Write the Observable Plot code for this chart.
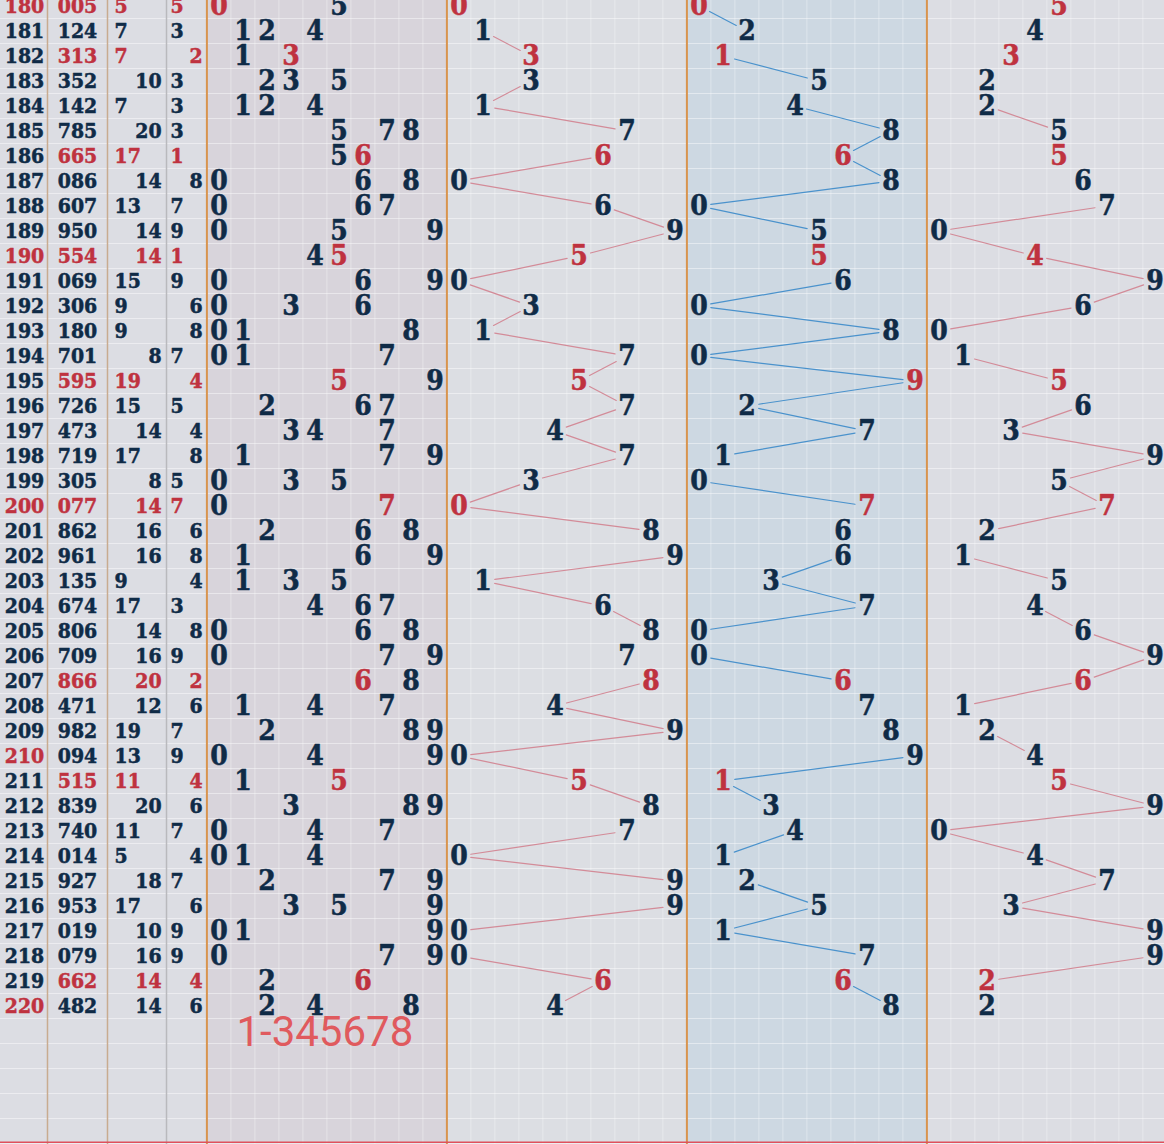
<!DOCTYPE html>
<html><head><meta charset="utf-8">
<script src="https://cdn.jsdelivr.net/npm/d3@7"></script>
<script src="https://cdn.jsdelivr.net/npm/@observablehq/plot@0.6"></script>
<style>
html,body{margin:0;padding:0;background:#dcdde3;overflow:hidden}
svg text.dig{font-stretch:condensed}
</style>
</head><body><div id="chart"></div>
<script>
// ---------- data ----------
const issues = [180,181,182,183,184,185,186,187,188,189,190,191,192,193,194,195,196,197,198,199,200,
                201,202,203,204,205,206,207,208,209,210,211,212,213,214,215,216,217,218,219,220];
const numbers = ["005","124","313","352","142","785","665","086","607","950","554","069","306","180","701","595","726","473","719","305","077",
                 "862","961","135","674","806","709","866","471","982","094","515","839","740","014","927","953","019","079","662","482"];
const sums  = [5,7,7,10,7,20,17,14,13,14,14,15,9,9,8,19,15,14,17,8,14,16,16,9,17,14,16,20,12,19,13,11,20,11,5,18,17,10,16,14,14];
const spans = [5,3,2,3,3,3,1,8,7,9,1,9,6,8,7,4,5,4,8,5,7,6,8,4,3,8,9,2,6,7,9,4,6,7,4,7,6,9,9,4,6];
const noteText = "1-345678";
const noteIssue = 221;

// ---------- layout ----------
const W = 1164, H = 1144;
const secStart = [8.6, 18.6, 28.6, 38.6];      // slot units (24px)
const secFill = ["#d8d4db", "#dcdee3", "#cdd8e2", "#dcdde3"];
const leftBorders = [{x:1.958,c:"#c8ab90"},{x:4.458,c:"#c8ab90"},{x:6.917,c:"#b9b9bd"}];
const DARK = "#0f2b47", RED = "#bf323f";
const lineColors = ["#d38b98", "#4a92cc", "#d38b98"];
const serif = "'DejaVu Serif Condensed','DejaVu Serif',serif";
const FS_L = 21, FS_R = 28;

const rows = issues.map((issue, i) => {
  const digs = numbers[i].split("").map(Number);
  const pair = new Set(digs).size < 3;
  return {issue, num: numbers[i], digs, sum: sums[i], span: spans[i], pair};
});

// distribution cells
const dist = [];
rows.forEach(r => {
  const cnt = d3.rollup(r.digs, v => v.length, d => d);
  for (const [d, c] of [...cnt].sort((a,b)=>a[0]-b[0])) dist.push({issue: r.issue, d, red: c > 1});
});

// position cells + connecting segments
const posCells = [], segs = [];
for (let p = 0; p < 3; p++) {
  rows.forEach((r, i) => {
    posCells.push({issue: r.issue, d: r.digs[p], x: secStart[p+1] + 0.5 + r.digs[p], red: r.pair});
    if (i > 0) {
      const a = rows[i-1].digs[p], b = r.digs[p];
      if (Math.abs(a - b) >= 2) segs.push({p, x1: secStart[p+1] + 0.5 + a, y1: rows[i-1].issue, x2: secStart[p+1] + 0.5 + b, y2: r.issue});
    }
  });
}

const hLines = d3.range(179.5, 226, 1);
const vLines = secStart.flatMap(s => d3.range(1, 10).map(k => s + k));
const sections = secStart.map((s, i) => ({x1: s, x2: s + 10, fill: secFill[i]}));

const txt = (data, o) => Plot.text(data, {fontFamily: serif, fontWeight: "bold", className: "dig",
  stroke: o.fill, strokeWidth: 0.5, ...o});
const colorOf = d => d.pair ? RED : DARK;

const chart = Plot.plot({
  width: W, height: H,
  margin: 0,
  x: {domain: [0, 48.5], range: [0, W], axis: null},
  y: {domain: [179.78, 225.54], range: [0, H], axis: null},
  style: {background: "#dcdde3"},
  marks: [
    Plot.rect(sections, {x1: "x1", x2: "x2", y1: 179.78, y2: 225.54, fill: "fill"}),
    Plot.ruleY(hLines, {stroke: "#ffffff", strokeOpacity: 0.45, strokeWidth: 1}),
    Plot.ruleX(vLines, {stroke: "#ffffff", strokeOpacity: 0.35, strokeWidth: 1}),
    Plot.ruleX(leftBorders, {x: "x", stroke: "c", strokeWidth: 1.5}),
    Plot.ruleX(secStart, {stroke: "#d8944e", strokeWidth: 2}),
    Plot.ruleY([225.45], {stroke: "#e0505c", strokeWidth: 1.5}),
    // left columns
    txt(rows, {x: 1.0, y: "issue", text: d => String(d.issue), fill: d => d.issue % 10 === 0 ? RED : DARK, fontSize: FS_L}),
    txt(rows, {x: 3.21, y: "issue", text: "num", fill: colorOf, fontSize: FS_L}),
    txt(rows.filter(d => d.sum % 2), {x: 4.75, y: "issue", text: d => String(d.sum), textAnchor: "start", fill: colorOf, fontSize: FS_L}),
    txt(rows.filter(d => d.sum % 2 === 0), {x: 6.71, y: "issue", text: d => String(d.sum), textAnchor: "end", fill: colorOf, fontSize: FS_L}),
    txt(rows.filter(d => d.span % 2), {x: 7.08, y: "issue", text: d => String(d.span), textAnchor: "start", fill: colorOf, fontSize: FS_L}),
    txt(rows.filter(d => d.span % 2 === 0), {x: 8.42, y: "issue", text: d => String(d.span), textAnchor: "end", fill: colorOf, fontSize: FS_L}),
    // distribution
    txt(dist, {x: d => secStart[0] + 0.5 + d.d, y: "issue", text: d => String(d.d), fill: d => d.red ? RED : DARK, fontSize: FS_R}),
    // trend lines
    ...[0,1,2].map(p => Plot.arrow(segs.filter(s => s.p === p), {x1: "x1", y1: "y1", x2: "x2", y2: "y2",
      stroke: lineColors[p], strokeWidth: 1.2, headLength: 0, insetStart: 12, insetEnd: 12})),
    txt(posCells, {x: "x", y: "issue", text: d => String(d.d), fill: d => d.red ? RED : DARK, fontSize: FS_R}),
    // note
    Plot.text([noteText], {x: 9.83, y: noteIssue, dy: 2, text: d => d, textAnchor: "start", fill: "#e05a5e",
      fontFamily: "Roboto, 'Noto Sans', sans-serif", fontSize: 42})
  ]
});
document.getElementById("chart").appendChild(chart);
</script>
</body></html>
